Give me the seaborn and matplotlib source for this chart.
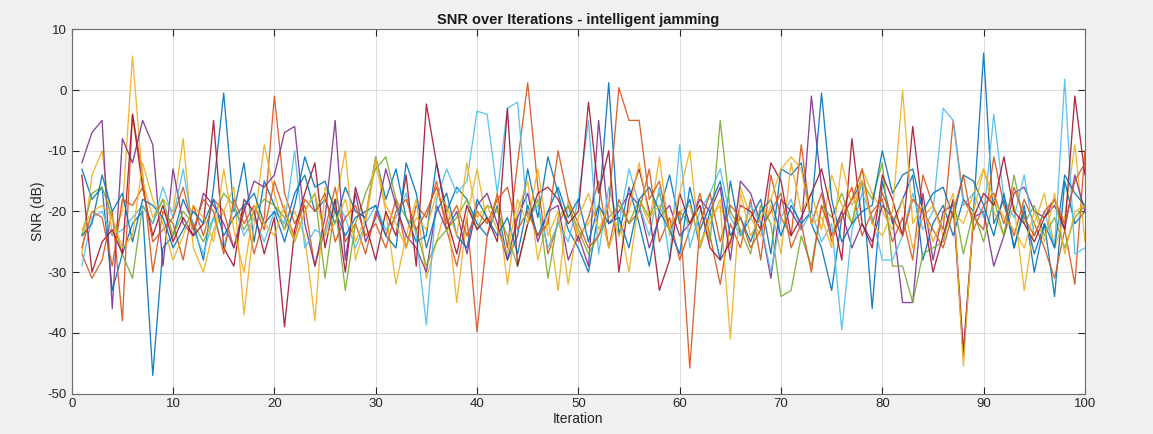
import numpy as np
import pandas as pd
import matplotlib
matplotlib.use("Agg")
import matplotlib.pyplot as plt
import seaborn as sns

# Iteration index and SNR traces (dB), one list per run
iterations = list(range(1, 101))

run_1 = [-13, -18, -16, -33, -27, -22, -20, -47, -26, -24,
         -18, -22, -28, -16, -0.5, -20, -12, -25, -15, -19,
         -23, -17, -14, -20, -18, -22, -16, -20, -21, -11,
         -18, -13, -21, -25, -24, -12, -20, -16, -18, -22,
         -24, -19, -28, -24, -13, -21, -11, -17, -23, -26,
         -30, -20, 1.2, -24, -16, -22, -29, -20, -14, -22,
         -18, -26, -20, -28, -15, -24, -21, -18, -27, -13,
         -14, -12, -22, -26, -33, -21, -18, -15, -36, -15,
         -22, -18, -14, -28, -22, -19, -24, -18, -20, 6.1,
         -22, -18, -26, -19, -30, -22, -34, -15, -22, -20]

run_2 = [-27, -31, -28, -20, -38, -4, -14, -30, -20, -22,
         -28, -19, -24, -18, -20, -26, -19, -27, -21, -1,
         -17, -22, -19, -29, -23, -16, -25, -22, -27, -20,
         -24, -18, -26, -19, -21, -15, -23, -29, -21, -39.8,
         -24, -17, -26, -12, 1.2, -16, -27, -22, -19, -25,
         -21, -15, -26, -18, -22, -20, -13, -25, -21, -28,
         -23, -17, -24, -32, -22, -26, -18, -28, -14, -21,
         -24, -9, -22, -17, -25, -20, -16, -24, -20, -18,
         -25, -21, -28, -14, -19, -23, -5, -18, -21, -23,
         -11, -19, -24, -18, -22, -26, -31, -23, -32, -10]

run_3 = [-27, -14, -10, -24, -20, 5.6, -15, -21, -18, -20,
         -8, -26, -30, -23, -20, -16, -37, -22, -9, -17,
         -23, -20, -24, -38, -16, -19, -10, -28, -22, -12,
         -20, -32, -24, -18, -31, -25, -19, -35, -21, -13,
         -22, -18, -32, -20, -15, -28, -21, -33, -18, -24,
         -22, -19, -26, -21, -30, -18, -22, -11, -24, -20,
         -19, -25, -22, -18, -26, -16, -21, -24, -19, -27,
         -12, -20, -17, -23, -14, -19, -22, -13, -17, -20,
         -23, -18, -26, -21, -19, -24, -20, -22, -17, -13,
         -20, -24, -19, -33, -22, -17, -26, -21, -9, -25]

run_4 = [-12, -7, -5, -36, -8, -12, -5, -9, -29, -13,
         -22, -24, -17, -19, -22, -26, -20, -15, -16, -14,
         -7, -6, -22, -29, -21, -5, -28, -17, -25, -21,
         -13, -19, -24, -26, -30, -19, -23, -20, -27, -19,
         -17, -22, -28, -21, -17, -25, -20, -19, -28, -24,
         -29, -5, -22, -20, -17, -19, -26, -21, -19, -24,
         -22, -18, -20, -16, -28, -15, -17, -22, -31, -18,
         -20, -23, -1, -16, -24, -20, -26, -22, -25, -19,
         -21, -35, -35, -17, -28, -20, -19, -44, -21, -20,
         -29, -24, -17, -16, -20, -21, -19, -23, -14, -20]

run_5 = [-24, -17, -16, -21, -27, -31, -19, -22, -18, -24,
         -20, -22, -25, -21, -17, -19, -23, -20, -18, -19,
         -21, -25, -20, -17, -31, -19, -33, -22, -17, -13,
         -11, -18, -21, -23, -29, -25, -23, -21, -18, -23,
         -19, -20, -24, -29, -22, -18, -31, -21, -19, -23,
         -27, -24, -21, -19, -22, -18, -21, -17, -23, -20,
         -22, -19, -25, -5, -20, -23, -27, -19, -22, -34,
         -33, -24, -29, -19, -21, -17, -22, -15, -18, -12,
         -29, -29, -35, -27, -26, -25, -18, -27, -20, -25,
         -18, -24, -14, -22, -19, -24, -21, -26, -21, -19]

run_6 = [-29, -21, -20, -24, -23, -21, -19, -22, -16, -21,
         -13, -23, -27, -21, -26, -19, -24, -21, -25, -20,
         -22, -10, -26, -23, -24, -18, -21, -26, -22, -19,
         -23, -21, -17, -24, -38.7, -18, -13, -17, -15, -3.5,
         -4, -17, -3, -2, -21, -19, -26, -22, -25, -18,
         -5, -27, -16, -22, -13, -19, -24, -16, -28, -9,
         -26, -20, -17, -13, -21, -24, -19, -22, -30, -21,
         -18, -23, -20, -25, -22, -39.5, -23, -17, -21, -28,
         -28, -24, -17, -23, -20, -3, -5, -19, -17, -21,
         -4, -18, -21, -14, -24, -20, -26, 1.8, -27, -26]

run_7 = [-14, -30, -25, -23, -27, -4, -16, -24, -19, -25,
         -21, -24, -22, -5, -26, -29, -18, -20, -27, -21,
         -39, -23, -17, -12, -26, -18, -30, -16, -22, -28,
         -20, -24, -14, -29, -2.3, -12, -21, -27, -19, -23,
         -21, -25, -3, -29, -22, -17, -16, -18, -22, -20,
         -2, -17, -10, -30, -18, -13, -20, -33, -28, -17,
         -22, -19, -26, -28, -25, -19, -20, -23, -12, -15,
         -24, -21, -17, -13, -20, -28, -8, -22, -26, -14,
         -18, -24, -6, -20, -30, -24, -18, -43, -21, -17,
         -19, -11, -20, -22, -25, -21, -18, -23, -1, -14]

run_8 = [-24, -22, -14, -20, -17, -25, -18, -19, -21, -26,
         -23, -20, -22, -18, -24, -21, -19, -17, -22, -20,
         -25, -19, -11, -16, -15, -20, -24, -21, -20, -19,
         -24, -26, -12, -17, -26, -20, -17, -24, -26, -18,
         -21, -24, -21, -27, -19, -24, -20, -16, -21, -18,
         -25, -19, -22, -21, -26, -18, -16, -20, -23, -27,
         -16, -23, -19, -15, -24, -21, -25, -20, -18, -24,
         -19, -22, -20, -0.5, -18, -25, -22, -20, -19, -10,
         -17, -14, -13, -20, -17, -16, -21, -14, -15, -19,
         -24, -17, -26, -20, -27, -22, -26, -14, -17, -19]

run_9 = [-26, -20, -21, -29, -18, -19, -16, -25, -23, -21,
         -16, -23, -18, -20, -27, -18, -22, -19, -23, -15,
         -20, -24, -18, -20, -17, -25, -21, -19, -24, -22,
         -26, -20, -18, -23, -20, -16, -22, -19, -24, -20,
         -22, -18, -16, -23, -20, -24, -22, -10, -18, -22,
         -26, -24, -19, 0.4, -5, -5, -18, -15, -23, -20,
         -45.8, -22, -17, -25, -19, -21, -26, -23, -20, -17,
         -26, -22, -30, -19, -24, -21, -18, -13, -22, -17,
         -21, -24, -18, -20, -23, -26, -20, -14, -23, -19,
         -17, -22, -16, -21, -24, -20, -18, -22, -15, -12]

run_10 = [-23, -20, -19, -21, -26, -24, -12, -18, -22, -28,
          -24, -19, -21, -25, -13, -23, -30, -19, -22, -24,
          -19, -25, -20, -17, -24, -22, -18, -25, -21, -11,
          -19, -22, -26, -21, -23, -17, -19, -24, -12, -21,
          -19, -23, -27, -18, -22, -13, -24, -20, -32, -21,
          -17, -23, -19, -24, -20, -12, -21, -19, -23, -17,
          -10, -26, -21, -19, -41, -17, -24, -21, -18, -13,
          -11, -13, -22, -21, -26, -12, -19, -15, -22, -24,
          -20, -0.1, -22, -19, -25, -21, -17, -45.5, -20, -13,
          -18, -21, -23, -26, -20, -25, -17, -27, -20, -19]

runs = [run_1, run_2, run_3, run_4, run_5, run_6, run_7, run_8, run_9, run_10]
run_names = [f"run {i}" for i in range(1, len(runs) + 1)]

x_ticks = [0, 10, 20, 30, 40, 50, 60, 70, 80, 90, 100]
y_ticks = [-50, -40, -30, -20, -10, 0, 10]

# MATLAB-style colour order, cycling after seven lines
color_order = ["#0072BD", "#D95319", "#EDB120", "#7E2F8E",
               "#77AC30", "#4DBEEE", "#A2142F"]
palette = [color_order[i % len(color_order)] for i in range(len(runs))]

df = pd.DataFrame({
    "Iteration": np.tile(iterations, len(runs)),
    "SNR": np.concatenate([np.asarray(r, dtype=float) for r in runs]),
    "run": np.repeat(run_names, len(iterations)),
})

sns.set_theme(style="white")
plt.rcParams["font.family"] = ["Liberation Sans", "DejaVu Sans"]
plt.rcParams["axes.unicode_minus"] = False

fig = plt.figure(figsize=(11.53, 4.34), dpi=100)
fig.patch.set_facecolor("#f0f0f0")
ax = fig.add_axes([0.0622, 0.093, 0.8788, 0.8395])
ax.set_facecolor("white")

sns.lineplot(data=df, x="Iteration", y="SNR", hue="run", palette=palette,
             linewidth=0.95, alpha=0.9, legend=False, ax=ax,
             estimator=None, sort=False)

ax.set_xlim(0, 100)
ax.set_ylim(-50, 10)
ax.set_xticks(x_ticks)
ax.set_yticks(y_ticks)
ax.grid(True, color="#dcdcdc", linewidth=0.7)
ax.tick_params(direction="in", length=5, width=0.8, colors="#262626",
               labelsize=9.5, top=True, right=True, bottom=True, left=True,
               labelcolor="#262626")
for s in ax.spines.values():
    s.set_color("#6e6e6e")
    s.set_linewidth(0.8)

ax.set_xlabel("Iteration", fontsize=10, color="#262626", labelpad=1)
ax.set_ylabel("SNR (dB)", fontsize=10, color="#262626", labelpad=2)
ax.set_title("SNR over Iterations - intelligent jamming", fontsize=10.5,
             fontweight="bold", color="#1a1a1a", pad=4)

fig.savefig("out.png", dpi=100, facecolor=fig.get_facecolor())
